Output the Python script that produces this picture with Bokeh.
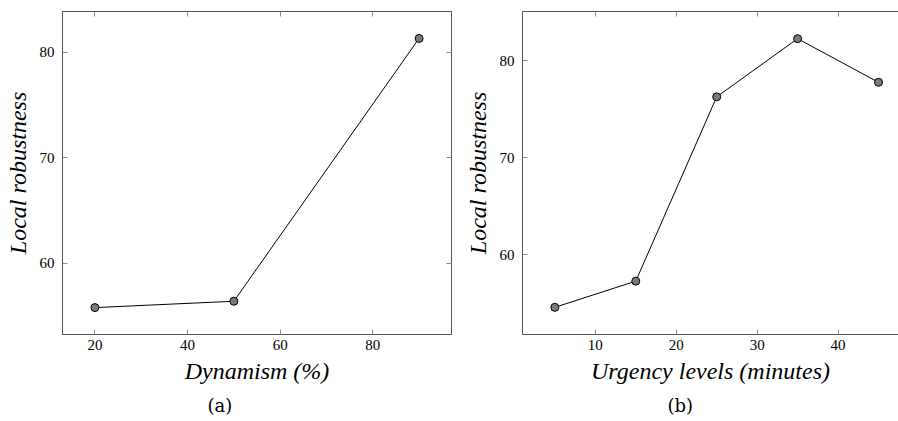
from bokeh.plotting import figure
from bokeh.layouts import row
from bokeh.models import LinearAxis, FixedTicker, Title, Range1d
from bokeh.embed import file_html
from bokeh.resources import INLINE

# ---- data ----
dyn_x = [20, 50, 90]
dyn_y = [55.8, 56.4, 81.3]
urg_x = [5, 15, 25, 35, 45]
urg_y = [54.6, 57.3, 76.3, 82.3, 77.8]

dyn_xticks = [20, 40, 60, 80]
urg_xticks = [10, 20, 30, 40]
yticks = [60, 70, 80]

FRAME = "#555555"
TICK = "#8a8a8a"
TICK_FONT = "Liberation Serif"
LABEL_FONT = "Liberation Serif"
CAP_FONT = "DejaVu Serif"


def style_axis(ax, ticks, show_labels=True):
    ax.ticker = FixedTicker(ticks=ticks)
    ax.minor_tick_line_color = None
    ax.major_tick_in = 5
    ax.major_tick_out = 0
    ax.major_tick_line_color = TICK
    ax.axis_line_color = FRAME
    ax.major_label_text_font = TICK_FONT
    if show_labels:
        ax.major_label_text_color = "black"
        ax.major_label_text_font_size = "15px"
    else:
        ax.major_label_text_color = None
        ax.major_label_text_font_size = "1px"
        ax.major_label_standoff = 0


def make_fig(width, xr, yr, xticks, xlabel, caption, cap_offset, bl, br, right_axis, outline):
    p = figure(width=width, height=421, output_backend="svg", toolbar_location=None,
               x_range=Range1d(*xr), y_range=Range1d(*yr),
               min_border_left=bl, min_border_right=br, min_border_top=11, min_border_bottom=87)
    p.grid.visible = False
    p.background_fill_color = "white"
    p.border_fill_color = "white"
    p.outline_line_color = FRAME if outline else None

    style_axis(p.xaxis[0], xticks)
    style_axis(p.yaxis[0], yticks)
    p.xaxis[0].major_label_standoff = 5
    p.yaxis[0].major_label_standoff = 8
    p.xaxis[0].axis_label = xlabel
    p.yaxis[0].axis_label = "Local robustness"
    for ax in (p.xaxis[0], p.yaxis[0]):
        ax.axis_label_text_font = LABEL_FONT
        ax.axis_label_text_font_style = "italic"
        ax.axis_label_text_font_size = "24px"
        ax.axis_label_text_color = "black"
    p.xaxis[0].axis_label_standoff = 5
    p.yaxis[0].axis_label_standoff = 6

    top = LinearAxis()
    style_axis(top, xticks, show_labels=False)
    p.add_layout(top, "above")
    if right_axis:
        r = LinearAxis()
        style_axis(r, yticks, show_labels=False)
        p.add_layout(r, "right")

    cap = Title(text=caption, align="left", offset=cap_offset,
                text_font=CAP_FONT, text_font_size="18px", text_font_style="normal",
                text_color="black", standoff=12)
    p.add_layout(cap, "below")
    return p


p1 = make_fig(460, (13, 97), (53.25, 83.85), dyn_xticks, "Dynamism (%)", "(a)", 145,
              62, 9, True, True)
p1.line(dyn_x, dyn_y, line_color="black", line_width=1)
p1.scatter(dyn_x, dyn_y, size=8, fill_color="#7a7a7a", line_color="black", line_width=1)

p2 = make_fig(438, (1, 47.47), (51.8, 85.1), urg_xticks, "Urgency levels (minutes)", "(b)", 145,
              62, 0, False, False)
p2.line(urg_x, urg_y, line_color="black", line_width=1)
p2.scatter(urg_x, urg_y, size=8, fill_color="#7a7a7a", line_color="black", line_width=1)

layout = row(p1, p2)
open("out.html", "w").write(file_html(layout, INLINE))
